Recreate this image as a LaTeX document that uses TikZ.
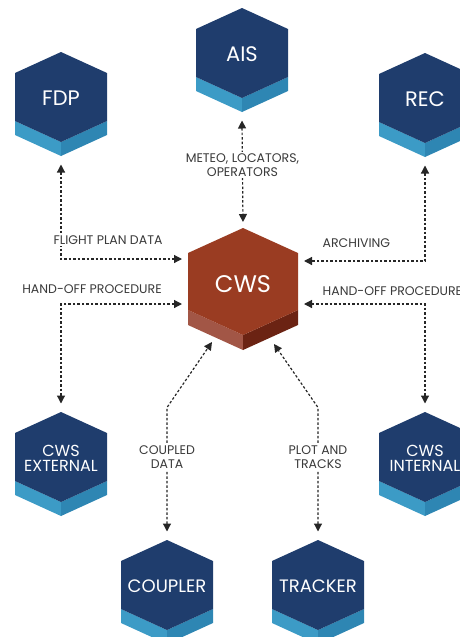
\documentclass[tikz,border=0pt]{standalone}
\usepackage{fontspec}
\setmainfont{Poppins}
\usetikzlibrary{arrows.meta,positioning}

\definecolor{hexnavy}{HTML}{1F3D6D}
\definecolor{stripl}{HTML}{3C9BC6}
\definecolor{stripr}{HTML}{2E86B3}
\definecolor{cwsface}{HTML}{9A3C22}
\definecolor{cwsl}{HTML}{A25646}
\definecolor{cwsr}{HTML}{6B2313}
\definecolor{lbltext}{HTML}{3A3A3A}

\tikzset{
  hexbox/.style={minimum width=92pt, minimum height=104pt, inner sep=0pt, outer sep=8.5pt},
  hexname/.style={text=white, align=center, inner sep=0pt},
  lbl/.style={text=lbltext, font=\fontsize{12.5}{14}\selectfont, align=center, inner sep=1.5pt},
  flow/.style={<->, line width=1.2pt, dash pattern=on 2.5pt off 2pt, draw=black!85}
}

\begin{document}
\begin{tikzpicture}[x=1pt, y=-1pt, >={Triangle[length=8pt,width=8pt]}]
  \useasboundingbox (0,0) rectangle (460,637);

  % outer hexagons
  \foreach \nm/\x/\y/\txt/\fs in {ais/242/8/AIS/21, fdp/61/52/FDP/21, rec/425/53/REC/21,
      ext/61/412/{CWS\\EXTERNAL}/16, int/425/412/{CWS\\INTERNAL}/16,
      cpl/167/540/COUPLER/18, trk/318/540/TRACKER/18} {
    \fill[stripl] (\x-46,\y+69) -- (\x,\y+90) -- (\x,\y+104) -- (\x-46,\y+83) -- cycle;
    \fill[stripr] (\x,\y+90) -- (\x+46,\y+69) -- (\x+46,\y+83) -- (\x,\y+104) -- cycle;
    \fill[hexnavy] (\x,\y) -- (\x+46,\y+21) -- (\x+46,\y+69) -- (\x,\y+90)
      -- (\x-46,\y+69) -- (\x-46,\y+21) -- cycle;
    \node[hexbox] (\nm) at (\x,\y+52) {};
    \node[hexname, font=\fontsize{\fs}{15}\selectfont] (\nm-txt) at (\x,\y+46) {\txt};
  }

  % central CWS
  \begin{scope}[shift={(243,228)}]
    \fill[cwsl] (-55,82) -- (0,107) -- (0,122) -- (-55,97) -- cycle;
    \fill[cwsr] (0,107) -- (55,82) -- (55,97) -- (0,122) -- cycle;
    \fill[cwsface] (0,0) -- (55,25) -- (55,82) -- (0,107) -- (-55,82) -- (-55,25) -- cycle;
  \end{scope}
  \node[hexbox, minimum width=110pt, minimum height=122pt, outer sep=6pt] (cws) at (243,289) {};
  \node[hexname, font=\fontsize{24}{30}\selectfont] (cws-txt) at (243,284) {CWS};

  % connectors
  \draw[flow] (ais.south) -- node[lbl, fill=white, pos=0.44] (lmet) {METEO, LOCATORS,\\OPERATORS} (cws.north);
  \draw[flow] (fdp.south) |- ([yshift=30pt]cws.west);
  \draw[flow] ([yshift=-15pt]cws.west) -| (ext.north);
  \draw[flow] (rec.south) |- ([yshift=28pt]cws.east);
  \draw[flow] ([yshift=-15pt]cws.east) -| (int.north);
  \draw[flow] (cpl.north) -- node[lbl, fill=white, pos=0.6] (lcpl) {COUPLED\\DATA} ++(0,-124)
    -- ([shift={(-31,53)}]cws.center);
  \draw[flow] (trk.north) -- node[lbl, fill=white, pos=0.6] (ltrk) {PLOT AND\\TRACKS} ++(0,-124)
    -- ([shift={(31,55)}]cws.center);

  % side labels
  \node[lbl, fill=white] (lfpd) at (108,240) {FLIGHT PLAN DATA};
  \node[lbl] (lhol) at (92,289) {HAND-OFF PROCEDURE};
  \node[lbl, anchor=west] (larc) at (321,243) {ARCHIVING};
  \node[lbl, anchor=west] (lhor) at (321,291) {HAND-OFF PROCEDURE};
\end{tikzpicture}
\end{document}
